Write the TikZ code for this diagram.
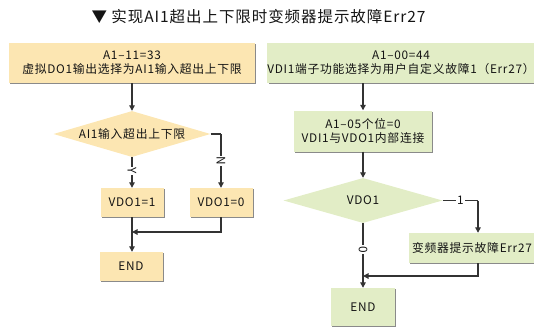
\documentclass[tikz,border=0pt]{standalone}
\usepackage{fontspec}
\setmainfont{Noto Sans CJK SC}
\usetikzlibrary{arrows.meta,shapes.geometric,shadows}
\definecolor{orangefill}{HTML}{FCE6B2}
\definecolor{greenfill}{HTML}{E2EDC6}
\definecolor{shadowc}{HTML}{8A8A8A}
\definecolor{linec}{HTML}{333333}
\tikzset{
  x=1pt, y=-1pt,
  txt/.style={font=\fontsize{11.8}{14}\selectfont\addfontfeature{LetterSpace=6}, text=black!92, align=center, inner sep=0pt},
  boxo/.style={txt, rectangle, fill=orangefill, drop shadow={shadow xshift=1.2pt, shadow yshift=-1.2pt, fill=shadowc, opacity=1}},
  boxg/.style={txt, rectangle, fill=greenfill, drop shadow={shadow xshift=1.2pt, shadow yshift=-1.2pt, fill=shadowc, opacity=1}},
  diao/.style={diamond, fill=orangefill, inner sep=0pt},
  diag/.style={diamond, fill=greenfill, inner sep=0pt},
  conn/.style={draw=linec, line width=1.2pt, -{Triangle[length=5.5pt,width=5.5pt]}},
  plain/.style={draw=linec, line width=1.2pt},
  lbl/.style={txt, fill=white, inner sep=1pt},
}
\begin{document}
\begin{tikzpicture}
\useasboundingbox (0,0) rectangle (534,329);
\node[font=\fontsize{15.5}{18}\selectfont\addfontfeature{LetterSpace=6}, text=black!92, inner sep=0pt] (title) at (258.5,17) {▼ 实现AI1超出上下限时变频器提示故障Err27};

% left
\node[boxo, minimum width=246pt, minimum height=40pt] (t1) at (132,63) {A1–11=33\\虚拟DO1输出选择为AI1输入超出上下限};
\node[diao, minimum width=157pt, minimum height=46pt] (d1) at (132,134) {};
\node[txt] (d1t) at (d1) {AI1输入超出上下限};
\node[boxo, minimum width=63pt, minimum height=29pt] (v1) at (132,202.5) {VDO1=1};
\node[boxo, minimum width=63pt, minimum height=29pt] (v0) at (221,202.5) {VDO1=0};
\node[boxo, minimum width=63pt, minimum height=29pt] (e1) at (131,266.5) {END};
\coordinate (n1) at (221,134);
\coordinate (j1) at (132,232);

\draw[conn] (t1.south) -- (d1.north);
\draw[plain] (d1.east) -- (n1);
\draw[conn] (n1) -- node[lbl, rotate=-90, pos=0.5]{N} (v0.north);
\draw[conn] (d1.south) -- node[lbl, rotate=-90, pos=0.45]{Y} (v1.north);
\draw[plain] (v1.south) -- (j1);
\draw[conn] (j1) -- (e1.north -| j1);
\draw[conn] (v0.south) |- (j1);

% right
\node[boxg, minimum width=262pt, minimum height=40pt] (t2) at (401,63) {A1–00=44\\VDI1端子功能选择为用户自定义故障1（Err27）};
\node[boxg, minimum width=138pt, minimum height=41pt] (b2) at (363,131) {A1–05个位=0\\VDI1与VDO1内部连接};
\node[diag, minimum width=159pt, minimum height=45pt] (d2) at (363,200.5) {};
\node[txt] (d2t) at (d2) {VDO1};
\node[boxg, minimum width=126pt, minimum height=30pt] (er) at (472,248) {变频器提示故障Err27};
\node[boxg, minimum width=64pt, minimum height=38pt] (e2) at (363,307) {END};
\coordinate (n2) at (478,200.5);
\coordinate (j2) at (363,276);

\draw[conn] (t2.south -| b2) -- (b2.north);
\draw[conn] (b2.south) -- (d2.north);
\draw[plain] (d2.east) -- node[lbl, pos=0.5]{1} (n2);
\draw[conn] (n2) -- (er.north -| n2);
\draw[plain] (d2.south) -- node[lbl, rotate=-90, pos=0.5]{0} (j2);
\draw[conn] (j2) -- (e2.north);
\draw[conn] (er.south -| n2) |- (j2);
\end{tikzpicture}
\end{document}
